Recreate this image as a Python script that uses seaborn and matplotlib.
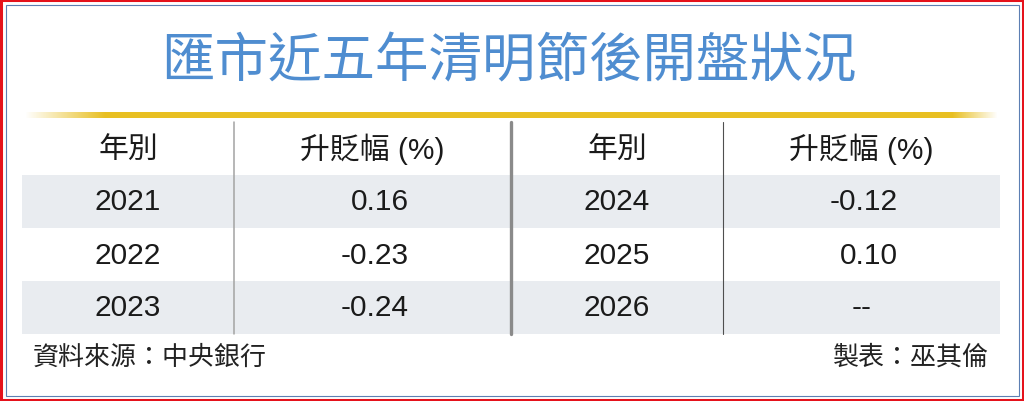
import numpy as np
import seaborn as sns
import matplotlib
matplotlib.use("Agg")
from matplotlib import pyplot as plt
from matplotlib.colors import ListedColormap

# donnees du tableau
title = "匯市近五年清明節後開盤狀況"
col_headers = ["年別", "升貶幅 (%)"]
years = [2021, 2022, 2023, 2024, 2025, 2026]
changes = [0.16, -0.23, -0.24, -0.12, 0.10, None]
source = "資料來源：中央銀行"
maker = "製表：巫其倫"

sns.set_theme(style="white")
plt.rcParams['font.family'] = ['Liberation Sans', 'Noto Sans CJK TC', 'DejaVu Sans']

W, H = 1024, 402
fig = plt.figure(figsize=(W / 100, H / 100), dpi=100, facecolor="white")

# geometrie du tableau (pixels)
tab_l, tab_r = 22, 1000
tab_t, row_h = 123, 53
n_rows = 3
tab_b = tab_t + row_h * (n_rows + 1)
half = (tab_r - tab_l) / 2
year_w = 212

# bandes grises avec heatmap
stripe = np.array([[i % 2] for i in range(n_rows + 1)])
tab = fig.add_axes([tab_l / W, 1 - tab_b / H, (tab_r - tab_l) / W, (tab_b - tab_t) / H])
sns.heatmap(stripe, cmap=ListedColormap(["white", "#e9ecf0"]), cbar=False, ax=tab,
            xticklabels=False, yticklabels=False, linewidths=0)
tab.set_axis_off()

# calque par dessus en pixels
ov = fig.add_axes([0, 0, 1, 1])
ov.patch.set_alpha(0)
ov.set_xlim(0, W)
ov.set_ylim(H, 0)
ov.set_axis_off()

# bordures
ov.add_patch(plt.Rectangle((1.1, 1.1), W - 2.2, H - 2.2, fill=False, ec="#e5121b", lw=2.2))
ov.add_patch(plt.Rectangle((5.5, 5.5), 1018.5 - 5.5, 397 - 5.5, fill=False, ec="#5d7fb3", lw=0.8))

# titre
ov.text(509, 62, title, ha="center", va="center", fontsize=38.5, color="#4f8dd0",
        family=["Noto Sans CJK TC"], fontweight="medium")

# ligne doree en degrade
xs = np.arange(25, 999)
alpha = np.clip((xs - 25) / 80, 0, 1) * np.clip((998 - xs) / 45, 0, 1)
grad = np.zeros((1, len(xs), 4))
grad[..., 0], grad[..., 1], grad[..., 2] = 0.91, 0.75, 0.13
grad[0, :, 3] = alpha
ov.imshow(grad, extent=(25, 998, 118.5, 113), aspect="auto", interpolation="bilinear")
ov.set_xlim(0, W)
ov.set_ylim(H, 0)

# lignes verticales
ov.plot([tab_l + year_w] * 2, [tab_t, tab_b], color="#a3a3a3", lw=1.1)
ov.plot([tab_l + half] * 2, [tab_t, tab_b], color="#8a8a8a", lw=2.4)
ov.plot([tab_l + half + year_w] * 2, [tab_t, tab_b], color="#4f4f4f", lw=0.8)

txt = dict(fontsize=21.5, color="#1a1a1a", va="center")
for side in range(2):
    x0 = tab_l + side * half
    cx_year = x0 + year_w / 2
    cx_val = x0 + year_w + (half - year_w) / 2
    yh = tab_t + row_h / 2
    ov.text(cx_year, yh, col_headers[0], ha="center", **txt)
    ov.text(cx_val, yh, col_headers[1], ha="center", **txt)
    for i in range(n_rows):
        k = side * n_rows + i
        y = tab_t + row_h * (i + 1.5)
        ov.text(cx_year, y, str(years[k]), ha="center", **txt)
        if changes[k] is None:
            ov.text(cx_val, y, "--", ha="center", **txt)
        else:
            ov.text(cx_val + 36, y, f"{changes[k]:.2f}", ha="right", **txt)

# pied
ov.text(33, 357, source, ha="left", va="center", fontsize=18.7, color="#222222",
        family=["Noto Sans CJK TC"])
ov.text(989, 357, maker, ha="right", va="center", fontsize=18.7, color="#222222",
        family=["Noto Sans CJK TC"])

fig.savefig("out.png", dpi=100, facecolor="white")
